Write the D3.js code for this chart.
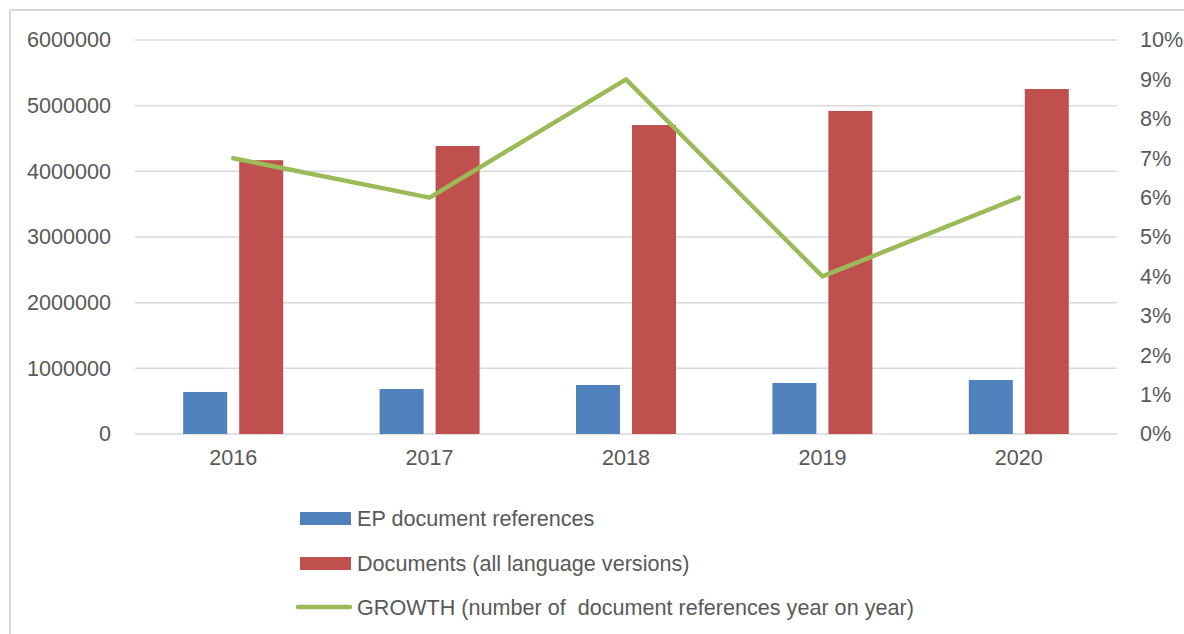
<!DOCTYPE html>
<html lang="en">
<head>
  <meta charset="UTF-8">
  <title>EP document references</title>
  <style>
    body { margin: 0; background: #fff; }
    text { font-family: "Liberation Sans", Arial, sans-serif; fill: #595959; }
  </style>
</head>
<body>
  <script src="https://d3js.org/d3.v7.min.js"></script>
  <script>
    const years = ['2016', '2017', '2018', '2019', '2020'];
    const epRefs = [640000, 685000, 746000, 777000, 822000];
    const documents = [4170000, 4386000, 4705000, 4920000, 5254000];
    const growth = [0.07, 0.06, 0.09, 0.04, 0.06];
    const leftTicks = [0, 1000000, 2000000, 3000000, 4000000, 5000000, 6000000];
    const rightTicks = [0, 0.01, 0.02, 0.03, 0.04, 0.05, 0.06, 0.07, 0.08, 0.09, 0.1];
    const seriesNames = ['EP document references', 'Documents (all language versions)',
      'GROWTH (number of  document references year on year)'];

    const width = 1184;
    const height = 634;
    const plotLeft = 135, plotRight = 1117, plotTop = 40, plotBottom = 434;
    const colors = ['#4F81BD', '#C0504D', '#9BBB59'];
    const fontSize = '21.6px';

    const svg = d3.select('body').append('svg')
      .attr('width', width)
      .attr('height', height);

    // outer chart frame (right / bottom edges fall outside the picture)
    svg.append('rect')
      .attr('x', 10).attr('y', 10)
      .attr('width', 1300).attr('height', 800)
      .attr('fill', 'none')
      .attr('stroke', '#D9D9D9')
      .attr('stroke-width', 2);

    const x = d3.scaleBand().domain(years).range([plotLeft, plotRight]);
    const xs = d3.scaleBand().domain([0, 1]).range([0, x.bandwidth()])
      .paddingInner(0.214).paddingOuter(0.861);
    const yL = d3.scaleLinear().domain([0, 6000000]).range([plotBottom, plotTop]);
    const yR = d3.scaleLinear().domain([0, 0.1]).range([plotBottom, plotTop]);

    // gridlines
    svg.append('g').selectAll('line')
      .data(leftTicks)
      .enter().append('line')
      .attr('x1', plotLeft).attr('x2', plotRight)
      .attr('y1', d => yL(d)).attr('y2', d => yL(d))
      .attr('stroke', '#D9D9D9')
      .attr('stroke-width', 1.5);

    // left axis labels
    const axL = svg.append('g')
      .attr('transform', 'translate(' + 111 + ',0)')
      .call(d3.axisLeft(yL).tickValues(leftTicks).tickFormat(d3.format('d')).tickSize(0).tickPadding(0));
    axL.select('.domain').remove();
    axL.attr('font-family', null).attr('font-size', null);
    axL.selectAll('text').style('font-size', fontSize).attr('fill', null);

    // right axis labels
    const axR = svg.append('g')
      .attr('transform', 'translate(' + 1140 + ',0)')
      .call(d3.axisRight(yR).tickValues(rightTicks).tickFormat(d3.format('.0%')).tickSize(0).tickPadding(0));
    axR.select('.domain').remove();
    axR.attr('font-family', null).attr('font-size', null);
    axR.selectAll('text').style('font-size', fontSize).attr('fill', null);

    // category labels
    const axX = svg.append('g')
      .attr('transform', 'translate(0,' + 450 + ')')
      .call(d3.axisBottom(x).tickSize(0).tickPadding(0));
    axX.select('.domain').remove();
    axX.attr('font-family', null).attr('font-size', null);
    axX.selectAll('text').style('font-size', fontSize).attr('fill', null);

    // bars
    const barData = [epRefs, documents];
    barData.forEach((vals, s) => {
      svg.append('g').selectAll('rect')
        .data(vals)
        .enter().append('rect')
        .attr('x', (d, i) => x(years[i]) + xs(s))
        .attr('width', xs.bandwidth())
        .attr('y', d => yL(d))
        .attr('height', d => yL(0) - yL(d))
        .attr('fill', colors[s]);
    });

    // growth line
    const line = d3.line()
      .x((d, i) => x(years[i]) + x.bandwidth() / 2)
      .y(d => yR(d));
    svg.append('path')
      .datum(growth)
      .attr('d', line)
      .attr('fill', 'none')
      .attr('stroke', colors[2])
      .attr('stroke-width', 4.5)
      .attr('stroke-linejoin', 'round')
      .attr('stroke-linecap', 'round');

    // legend
    const legend = svg.append('g');
    const rowY = [518, 563, 607];
    seriesNames.forEach((name, i) => {
      if (i < 2) {
        legend.append('rect')
          .attr('x', 300).attr('y', rowY[i] - 6)
          .attr('width', 51).attr('height', 13)
          .attr('fill', colors[i]);
      } else {
        legend.append('line')
          .attr('x1', 298).attr('x2', 350)
          .attr('y1', rowY[i]).attr('y2', rowY[i])
          .attr('stroke', colors[i])
          .attr('stroke-width', 4.5)
          .attr('stroke-linecap', 'round');
      }
      legend.append('text')
        .attr('x', 357).attr('y', rowY[i])
        .attr('dy', '0.36em')
        .style('font-size', fontSize)
        .style('white-space', 'pre')
        .text(name);
    });
  </script>
</body>
</html>
